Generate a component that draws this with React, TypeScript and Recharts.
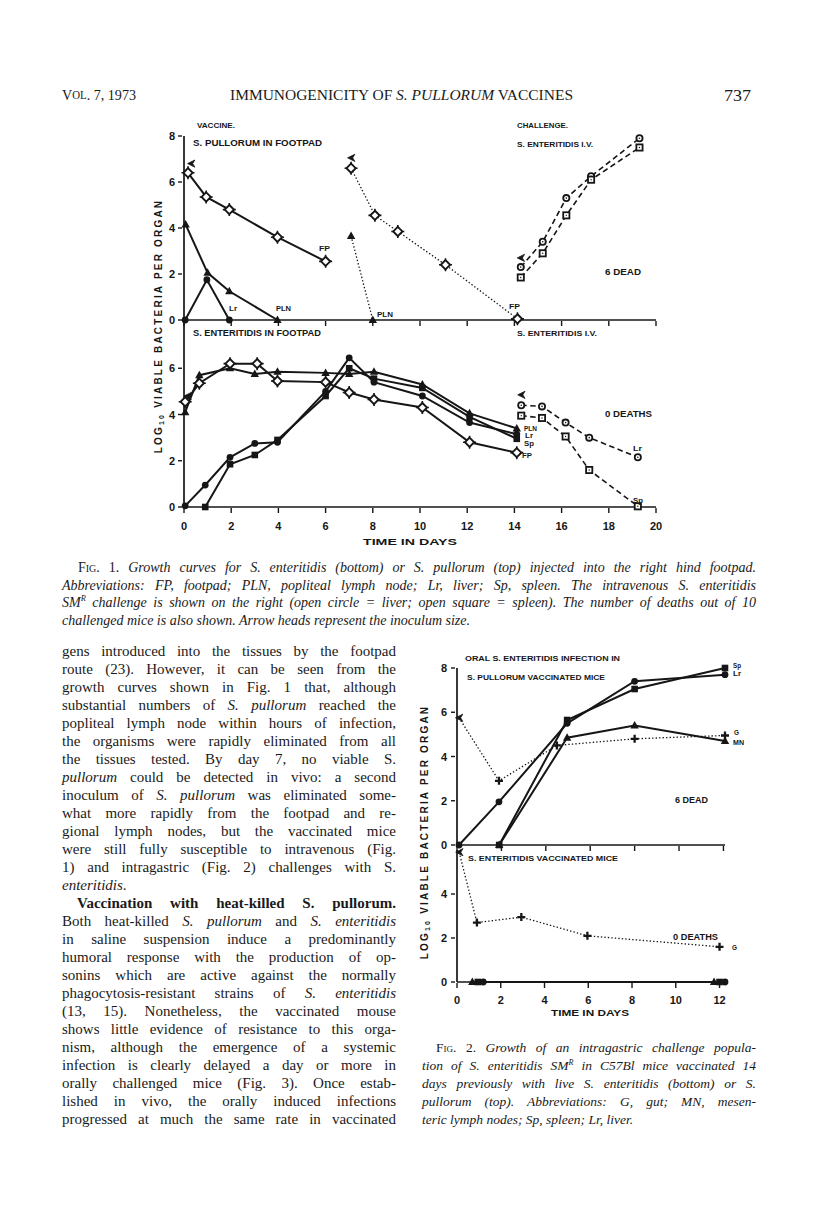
import React from "react";
import { LineChart, Line, XAxis, YAxis } from "recharts";

const INK = "#161616";
const SANS = "'Liberation Sans', Arial, sans-serif";
const SERIF = "'Liberation Serif', 'Times New Roman', serif";

type Pt = { d: number; v: number };

// ---- Fig. 1, top: S. pullorum vaccine in footpad, then I.V. challenge
const fig1TopFP: Pt[] = [
  { d: 0.17, v: 6.4 }, { d: 0.94, v: 5.35 }, { d: 1.92, v: 4.8 }, { d: 3.96, v: 3.6 }, { d: 6.0, v: 2.55 },
];
const fig1TopPLN: Pt[] = [{ d: 0.07, v: 4.15 }, { d: 1.0, v: 2.05 }, { d: 1.92, v: 1.25 }, { d: 3.96, v: 0 }];
const fig1TopLr: Pt[] = [{ d: 0.05, v: 0 }, { d: 0.97, v: 1.75 }, { d: 1.92, v: 0 }];
const fig1TopInoc: Pt[] = [{ d: 0.3, v: 6.8 }];
const fig1TopFP2: Pt[] = [
  { d: 7.08, v: 6.6 }, { d: 8.09, v: 4.55 }, { d: 9.06, v: 3.85 }, { d: 11.08, v: 2.4 }, { d: 14.13, v: 0.05 },
];
const fig1TopPLN2: Pt[] = [{ d: 7.08, v: 3.65 }, { d: 8.0, v: 0 }];
const fig1TopInoc2: Pt[] = [{ d: 7.08, v: 7.05 }];
const fig1TopIvLr: Pt[] = [
  { d: 14.27, v: 2.3 }, { d: 15.2, v: 3.4 }, { d: 16.2, v: 5.3 }, { d: 17.25, v: 6.25 }, { d: 19.3, v: 7.9 },
];
const fig1TopIvSp: Pt[] = [
  { d: 14.27, v: 1.85 }, { d: 15.2, v: 2.9 }, { d: 16.2, v: 4.55 }, { d: 17.25, v: 6.1 }, { d: 19.3, v: 7.5 },
];
const fig1TopIvInoc: Pt[] = [{ d: 14.27, v: 2.7 }];

// ---- Fig. 1, bottom: S. enteritidis in footpad, then I.V. challenge
const fig1BotFP: Pt[] = [
  { d: 0.05, v: 4.55 }, { d: 0.65, v: 5.35 }, { d: 1.95, v: 6.2 }, { d: 3.1, v: 6.2 }, { d: 3.96, v: 5.45 },
  { d: 6.0, v: 5.4 }, { d: 7.0, v: 4.95 }, { d: 8.05, v: 4.65 }, { d: 10.1, v: 4.3 }, { d: 12.1, v: 2.8 },
  { d: 14.1, v: 2.35 },
];
const fig1BotPLN: Pt[] = [
  { d: 0.05, v: 4.1 }, { d: 0.65, v: 5.7 }, { d: 1.95, v: 6.0 }, { d: 3.0, v: 5.75 }, { d: 3.96, v: 5.85 },
  { d: 6.0, v: 5.8 }, { d: 7.0, v: 5.75 }, { d: 8.05, v: 5.85 }, { d: 10.1, v: 5.3 }, { d: 12.1, v: 4.05 },
  { d: 14.1, v: 3.4 },
];
const fig1BotLr: Pt[] = [
  { d: 0.05, v: 0.05 }, { d: 0.9, v: 0.95 }, { d: 1.95, v: 2.15 }, { d: 3.0, v: 2.75 }, { d: 3.96, v: 2.8 },
  { d: 6.0, v: 5.0 }, { d: 7.0, v: 6.45 }, { d: 8.05, v: 5.4 }, { d: 10.1, v: 4.8 }, { d: 12.1, v: 3.65 },
  { d: 14.1, v: 3.15 },
];
const fig1BotSp: Pt[] = [
  { d: 0.9, v: 0 }, { d: 1.95, v: 1.85 }, { d: 3.0, v: 2.25 }, { d: 3.96, v: 2.9 }, { d: 6.0, v: 4.8 },
  { d: 7.0, v: 6.0 }, { d: 8.05, v: 5.55 }, { d: 10.1, v: 5.15 }, { d: 12.1, v: 3.9 }, { d: 14.1, v: 2.95 },
];
const fig1BotInoc: Pt[] = [{ d: 0.15, v: 4.8 }];
const fig1BotIvLr: Pt[] = [
  { d: 14.29, v: 4.4 }, { d: 15.17, v: 4.35 }, { d: 16.17, v: 3.65 }, { d: 17.17, v: 3.0 }, { d: 19.23, v: 2.15 },
];
const fig1BotIvSp: Pt[] = [
  { d: 14.29, v: 3.95 }, { d: 15.17, v: 3.85 }, { d: 16.17, v: 3.05 }, { d: 17.17, v: 1.6 }, { d: 19.23, v: 0.03 },
];
const fig1BotIvInoc: Pt[] = [{ d: 14.29, v: 4.85 }];

const fig1Days = [0, 2, 4, 6, 8, 10, 12, 14, 16, 18, 20];
const fig1TopLogTicks = [0, 2, 4, 6, 8];
const fig1BotLogTicks = [0, 2, 4, 6];

// ---- Fig. 2, top: oral challenge of S. pullorum vaccinated mice
const fig2TopSp: Pt[] = [{ d: 1.9, v: 0 }, { d: 4.96, v: 5.65 }, { d: 8.0, v: 7.05 }, { d: 12.07, v: 8.0 }];
const fig2TopLr: Pt[] = [
  { d: 0.09, v: 0 }, { d: 1.89, v: 1.95 }, { d: 4.96, v: 5.5 }, { d: 8.0, v: 7.4 }, { d: 12.07, v: 7.7 },
];
const fig2TopMN: Pt[] = [{ d: 1.9, v: 0 }, { d: 4.96, v: 4.85 }, { d: 8.0, v: 5.4 }, { d: 12.07, v: 4.7 }];
// first point is the inoculum (arrow head)
const fig2TopG: Pt[] = [
  { d: 0.09, v: 5.75 }, { d: 1.89, v: 2.9 }, { d: 4.5, v: 4.5 }, { d: 8.0, v: 4.8 }, { d: 12.07, v: 4.95 },
];

// ---- Fig. 2, bottom: S. enteritidis vaccinated mice
const fig2BotG: Pt[] = [
  { d: 0.1, v: 5.9 }, { d: 0.91, v: 2.7 }, { d: 2.94, v: 2.95 }, { d: 5.96, v: 2.1 }, { d: 12.0, v: 1.6 },
];
const fig2BotMN: Pt[] = [{ d: 0.7, v: 0 }, { d: 11.75, v: 0 }];
const fig2BotSp: Pt[] = [{ d: 0.95, v: 0 }, { d: 12.0, v: 0 }];
const fig2BotLr: Pt[] = [{ d: 1.2, v: 0 }, { d: 12.25, v: 0 }];

const fig2Days = [0, 2, 4, 6, 8, 10, 12];
const fig2TopLogTicks = [0, 2, 4, 6, 8];
const fig2BotLogTicks = [0, 2, 4];

type Kind = "circle" | "square" | "triangle" | "ring" | "box" | "star" | "plus" | "arrow";
type LineStyle = "solid" | "dotted" | "dashed" | "none";
type Series = { data: Pt[]; marker: Kind; style: LineStyle; first?: Kind };

function Marker({ kind, x, y }: { kind: Kind; x: number; y: number }) {
  switch (kind) {
    case "circle":
      return <circle cx={x} cy={y} r={3.4} fill={INK} />;
    case "square":
      return <rect x={x - 3.3} y={y - 3.3} width={6.6} height={6.6} fill={INK} />;
    case "triangle":
      return <path d={`M${x},${y - 4.5}L${x + 4.2},${y + 3}L${x - 4.2},${y + 3}Z`} fill={INK} />;
    case "ring":
      return (
        <g>
          <circle cx={x} cy={y} r={3.1} fill="#fff" stroke={INK} strokeWidth={1.8} />
          <circle cx={x} cy={y} r={0.8} fill={INK} />
        </g>
      );
    case "box":
      return (
        <g>
          <rect x={x - 3.1} y={y - 3.1} width={6.2} height={6.2} fill="#fff" stroke={INK} strokeWidth={1.8} />
          <circle cx={x} cy={y} r={0.7} fill={INK} />
        </g>
      );
    case "star":
      return (
        <g>
          <path d={`M${x - 6.5},${y}H${x + 6.5}M${x},${y - 6.5}V${y + 6.5}`} stroke={INK} strokeWidth={1.6} />
          <path
            d={`M${x},${y - 4.6}L${x + 4.6},${y}L${x},${y + 4.6}L${x - 4.6},${y}Z`}
            fill="#fff"
            stroke={INK}
            strokeWidth={1.9}
          />
        </g>
      );
    case "plus":
      return <path d={`M${x - 4},${y}H${x + 4}M${x},${y - 4}V${y + 4}`} stroke={INK} strokeWidth={2.3} />;
    case "arrow":
      return (
        <path
          d={`M${x - 3.5},${y}L${x + 3.8},${y - 3.6}L${x + 1.6},${y}L${x + 3.8},${y + 3.6}Z`}
          fill={INK}
          stroke={INK}
          strokeWidth={0.8}
          strokeLinejoin="round"
        />
      );
  }
  return null;
}

const dotOf = (kind: Kind, first?: Kind) => (p: any) => {
  if (p.cx == null || p.cy == null) return <g key={`e-${p.index}`} />;
  const k = first && p.index === 0 ? first : kind;
  return (
    <g key={`${kind}-${p.index}`}>
      <Marker kind={k} x={p.cx} y={p.cy} />
    </g>
  );
};

const lineStyle = (s: LineStyle) => {
  if (s === "dotted") return { stroke: INK, strokeWidth: 1.3, strokeDasharray: "1.4 2.1" };
  if (s === "dashed") return { stroke: INK, strokeWidth: 1.6, strokeDasharray: "5.5 3.5" };
  if (s === "none") return { stroke: "none", strokeWidth: 0 };
  return { stroke: INK, strokeWidth: 2 };
};

const xTick = (label: boolean, gap: number) => (p: any) => (
  <g>
    <line x1={p.x} x2={p.x} y1={p.y} y2={p.y - 5} stroke={INK} strokeWidth={1.4} />
    {label && (
      <text
        x={p.x}
        y={p.y + gap}
        textAnchor="middle"
        dominantBaseline="central"
        fontSize={11}
        fontWeight={700}
        fontFamily={SANS}
        fill={INK}
      >
        {p.payload.value}
      </text>
    )}
  </g>
);

const yTick = (gap: number) => (p: any) => (
  <g>
    <line x1={p.x} x2={p.x + 4} y1={p.y} y2={p.y} stroke={INK} strokeWidth={1.4} />
    <text
      x={p.x - gap}
      y={p.y}
      textAnchor="end"
      dominantBaseline="central"
      fontSize={11}
      fontWeight={700}
      fontFamily={SANS}
      fill={INK}
    >
      {p.payload.value}
    </text>
  </g>
);

type PanelProps = {
  left: number;
  top: number;
  width: number;
  height: number;
  yAxisWidth: number;
  mt: number;
  mr: number;
  mb: number;
  xAxisHeight: number;
  xDomain: [number, number];
  xTicks: number[];
  xLabels: boolean;
  xGap: number;
  yDomain: [number, number];
  yTicks: number[];
  yGap: number;
  series: Series[];
};

function Panel(props: PanelProps) {
  return (
    <div style={{ position: "absolute", left: props.left, top: props.top }}>
      <LineChart
        width={props.width}
        height={props.height}
        margin={{ top: props.mt, right: props.mr, bottom: props.mb, left: 0 }}
      >
        <XAxis
          type="number"
          dataKey="d"
          domain={props.xDomain}
          ticks={props.xTicks}
          interval={0}
          height={props.xAxisHeight}
          tickLine={false}
          tickMargin={0}
          axisLine={{ stroke: INK, strokeWidth: 1.7 }}
          tick={xTick(props.xLabels, props.xGap)}
        />
        <YAxis
          type="number"
          domain={props.yDomain}
          ticks={props.yTicks}
          interval={0}
          width={props.yAxisWidth}
          tickLine={false}
          tickMargin={0}
          axisLine={{ stroke: INK, strokeWidth: 1.7 }}
          tick={yTick(props.yGap)}
        />
        {props.series.map((s, i) => (
          <Line
            key={i}
            data={s.data}
            dataKey="v"
            type="linear"
            {...lineStyle(s.style)}
            dot={dotOf(s.marker, s.first)}
            activeDot={false}
            isAnimationActive={false}
          />
        ))}
      </LineChart>
    </div>
  );
}

const fig1TopSeries: Series[] = [
  { data: fig1TopLr, marker: "circle", style: "solid" },
  { data: fig1TopPLN, marker: "triangle", style: "solid" },
  { data: fig1TopFP, marker: "star", style: "solid" },
  { data: fig1TopPLN2, marker: "triangle", style: "dotted" },
  { data: fig1TopFP2, marker: "star", style: "dotted" },
  { data: fig1TopIvLr, marker: "ring", style: "dashed" },
  { data: fig1TopIvSp, marker: "box", style: "dashed" },
  { data: fig1TopInoc, marker: "arrow", style: "none" },
  { data: fig1TopInoc2, marker: "arrow", style: "none" },
  { data: fig1TopIvInoc, marker: "arrow", style: "none" },
];

const fig1BotSeries: Series[] = [
  { data: fig1BotLr, marker: "circle", style: "solid" },
  { data: fig1BotSp, marker: "square", style: "solid" },
  { data: fig1BotPLN, marker: "triangle", style: "solid" },
  { data: fig1BotFP, marker: "star", style: "solid" },
  { data: fig1BotIvLr, marker: "ring", style: "dashed" },
  { data: fig1BotIvSp, marker: "box", style: "dashed" },
  { data: fig1BotInoc, marker: "arrow", style: "none" },
  { data: fig1BotIvInoc, marker: "arrow", style: "none" },
];

const fig2TopSeries: Series[] = [
  { data: fig2TopMN, marker: "triangle", style: "solid" },
  { data: fig2TopLr, marker: "circle", style: "solid" },
  { data: fig2TopSp, marker: "square", style: "solid" },
  { data: fig2TopG, marker: "plus", style: "dotted", first: "arrow" },
];

const fig2BotSeries: Series[] = [
  { data: fig2BotMN, marker: "triangle", style: "solid" },
  { data: fig2BotSp, marker: "square", style: "solid" },
  { data: fig2BotLr, marker: "circle", style: "solid" },
  { data: fig2BotG, marker: "plus", style: "dotted", first: "arrow" },
];

// chart lettering: text, x (start), y (centre), width, font size
const notes: [string, number, number, number, number][] = [
  ["VACCINE.", 197, 125, 38, 8],
  ["S. PULLORUM IN FOOTPAD", 193, 143, 129, 8.5],
  ["CHALLENGE.", 517, 125, 51, 8],
  ["S. ENTERITIDIS I.V.", 517, 144, 76, 8],
  ["FP", 319, 248, 11, 8],
  ["Lr", 229, 308, 8, 8],
  ["PLN", 276, 308, 15, 8],
  ["PLN", 377, 314, 16, 8],
  ["FP", 509, 306, 11, 8],
  ["6 DEAD", 605, 272, 36, 8.5],
  ["S. ENTERITIDIS IN FOOTPAD", 193, 333, 128, 8.5],
  ["S. ENTERITIDIS I.V.", 517, 333, 80, 8],
  ["PLN", 524, 428, 13, 7.5],
  ["Lr", 525, 435, 8, 7.5],
  ["Sp", 524, 443, 10, 7.5],
  ["FP", 522, 455, 10, 7.5],
  ["0 DEATHS", 605, 414, 47, 8.5],
  ["Lr", 633, 448, 9, 7.5],
  ["Sp", 633, 500, 10, 7.5],
  ["TIME IN DAYS", 363, 541, 94, 9.5],
  ["ORAL S. ENTERITIDIS INFECTION IN", 465, 658, 155, 8],
  ["S. PULLORUM VACCINATED MICE", 467, 677, 138, 8],
  ["Sp", 733, 665, 8, 7],
  ["Lr", 733, 673, 8, 7],
  ["G", 734, 732, 5, 7.5],
  ["MN", 733, 742, 11, 7.5],
  ["6 DEAD", 675, 800, 33, 8.5],
  ["S. ENTERITIDIS VACCINATED MICE", 468, 858, 150, 8],
  ["0 DEATHS", 673, 937, 45, 8.5],
  ["G", 732, 947, 5, 7.5],
  ["TIME IN DAYS", 551, 1013, 78, 9],
];

function YLabel({ x, y }: { x: number; y: number }) {
  return (
    <text
      transform={`translate(${x},${y}) rotate(-90)`}
      textAnchor="middle"
      dominantBaseline="central"
      fontFamily={SANS}
      fontWeight={700}
      fontSize={10}
      letterSpacing={2.2}
      fill={INK}
    >
      LOG<tspan fontSize={7} dy={3}>10</tspan>
      <tspan dy={-3}> VIABLE BACTERIA PER ORGAN</tspan>
    </text>
  );
}

type TextLine = { node: React.ReactNode; last?: boolean; indent?: number };

const bodyLines: TextLine[] = [
  { node: "gens introduced into the tissues by the footpad" },
  { node: "route (23). However, it can be seen from the" },
  { node: "growth curves shown in Fig. 1 that, although" },
  { node: <>substantial numbers of <i>S. pullorum</i> reached the</> },
  { node: "popliteal lymph node within hours of infection," },
  { node: "the organisms were rapidly eliminated from all" },
  { node: "the tissues tested. By day 7, no viable S." },
  { node: <><i>pullorum</i> could be detected in vivo: a second</> },
  { node: <>inoculum of <i>S. pullorum</i> was eliminated some-</> },
  { node: "what more rapidly from the footpad and re-" },
  { node: "gional lymph nodes, but the vaccinated mice" },
  { node: "were still fully susceptible to intravenous (Fig." },
  { node: "1) and intragastric (Fig. 2) challenges with S." },
  { node: <><i>enteritidis</i>.</>, last: true },
  { node: <b>Vaccination with heat-killed S. pullorum.</b>, indent: 15 },
  { node: <>Both heat-killed <i>S. pullorum</i> and <i>S. enteritidis</i></> },
  { node: "in saline suspension induce a predominantly" },
  { node: "humoral response with the production of op-" },
  { node: "sonins which are active against the normally" },
  { node: <>phagocytosis-resistant strains of <i>S. enteritidis</i></> },
  { node: "(13, 15). Nonetheless, the vaccinated mouse" },
  { node: "shows little evidence of resistance to this orga-" },
  { node: "nism, although the emergence of a systemic" },
  { node: "infection is clearly delayed a day or more in" },
  { node: "orally challenged mice (Fig. 3). Once estab-" },
  { node: "lished in vivo, the orally induced infections" },
  { node: "progressed at much the same rate in vaccinated" },
];

const fig1Caption: TextLine[] = [
  {
    node: (
      <>
        <span style={{ fontStyle: "normal", fontVariant: "small-caps" }}>Fig. 1.</span> Growth curves for S.
        enteritidis (bottom) or S. pullorum (top) injected into the right hind footpad.
      </>
    ),
    indent: 16,
  },
  {
    node: "Abbreviations: FP, footpad; PLN, popliteal lymph node; Lr, liver; Sp, spleen. The intravenous S. enteritidis",
  },
  {
    node: (
      <>
        SM<sup style={{ fontSize: "0.6em", lineHeight: 0 }}>R</sup> challenge is shown on the right (open circle =
        liver; open square = spleen). The number of deaths out of 10
      </>
    ),
  },
  { node: "challenged mice is also shown. Arrow heads represent the inoculum size.", last: true },
];

const fig2Caption: TextLine[] = [
  {
    node: (
      <>
        <span style={{ fontStyle: "normal", fontVariant: "small-caps" }}>Fig. 2.</span> Growth of an
        intragastric challenge popula-
      </>
    ),
    indent: 14,
  },
  {
    node: (
      <>
        tion of S. enteritidis SM<sup style={{ fontSize: "0.6em", lineHeight: 0 }}>R</sup> in C57Bl mice
        vaccinated 14
      </>
    ),
  },
  { node: "days previously with live S. enteritidis (bottom) or S." },
  { node: "pullorum (top). Abbreviations: G, gut; MN, mesen-" },
  { node: "teric lymph nodes; Sp, spleen; Lr, liver.", last: true },
];

function TextBlock({
  lines,
  left,
  top,
  width,
  size,
  lh,
  italic,
}: {
  lines: TextLine[];
  left: number;
  top: number;
  width: number;
  size: number;
  lh: number;
  italic?: boolean;
}) {
  return (
    <div
      style={{
        position: "absolute",
        left,
        top,
        width,
        fontFamily: SERIF,
        fontSize: size,
        lineHeight: `${lh}px`,
        fontStyle: italic ? "italic" : "normal",
        color: "#1a1a1a",
      }}
    >
      {lines.map((l, i) => (
        <div
          key={i}
          style={{
            height: lh,
            paddingLeft: l.indent ?? 0,
            textAlign: "justify",
            textAlignLast: l.last ? "left" : "justify",
          }}
        >
          {l.node}
        </div>
      ))}
    </div>
  );
}

export default function App() {
  return (
    <div
      style={{
        position: "absolute",
        left: 0,
        top: 0,
        width: 810,
        height: 1222,
        background: "#fff",
        overflow: "hidden",
      }}
    >
      <Panel
        left={150}
        top={126}
        width={520}
        height={200}
        yAxisWidth={34}
        mt={10}
        mr={14}
        mb={2}
        xAxisHeight={4}
        xDomain={[0, 20]}
        xTicks={fig1Days}
        xLabels={false}
        xGap={14}
        yDomain={[0, 8]}
        yTicks={fig1TopLogTicks}
        yGap={3}
        series={fig1TopSeries}
      />
      <Panel
        left={150}
        top={312}
        width={520}
        height={225}
        yAxisWidth={34}
        mt={10}
        mr={14}
        mb={0}
        xAxisHeight={30}
        xDomain={[0, 20]}
        xTicks={fig1Days}
        xLabels={true}
        xGap={13}
        yDomain={[0, 8]}
        yTicks={fig1BotLogTicks}
        yGap={3}
        series={fig1BotSeries}
      />
      <Panel
        left={420}
        top={658}
        width={330}
        height={193}
        yAxisWidth={37}
        mt={10}
        mr={25}
        mb={2}
        xAxisHeight={4}
        xDomain={[0, 12]}
        xTicks={fig2Days}
        xLabels={false}
        xGap={12}
        yDomain={[0, 8]}
        yTicks={fig2TopLogTicks}
        yGap={4}
        series={fig2TopSeries}
      />
      <Panel
        left={420}
        top={840}
        width={330}
        height={172}
        yAxisWidth={37}
        mt={10}
        mr={25}
        mb={0}
        xAxisHeight={30}
        xDomain={[0, 12]}
        xTicks={fig2Days}
        xLabels={true}
        xGap={12}
        yDomain={[0, 6]}
        yTicks={fig2BotLogTicks}
        yGap={4}
        series={fig2BotSeries}
      />

      <svg
        width={810}
        height={1222}
        style={{ position: "absolute", left: 0, top: 0, pointerEvents: "none" }}
      >
        <g fontFamily={SERIF} fill="#1a1a1a" dominantBaseline="central">
          <text x={62} y={95} fontSize={15} textLength={74} lengthAdjust="spacingAndGlyphs">
            V<tspan fontSize={11.5}>OL</tspan>. 7, 1973
          </text>
          <text x={230} y={95} fontSize={15} textLength={343} lengthAdjust="spacingAndGlyphs">
            IMMUNOGENICITY OF <tspan fontStyle="italic">S. PULLORUM</tspan> VACCINES
          </text>
          <text x={724} y={95} fontSize={16} textLength={27} lengthAdjust="spacingAndGlyphs">
            737
          </text>
        </g>
        <g fontFamily={SANS} fontWeight={700} fill={INK}>
          {notes.map(([t, x, y, w, s], i) => (
            <text
              key={i}
              x={x}
              y={y}
              fontSize={s}
              textLength={w}
              lengthAdjust="spacingAndGlyphs"
              dominantBaseline="central"
            >
              {t}
            </text>
          ))}
        </g>
        <YLabel x={158} y={326} />
        <YLabel x={424} y={832} />
      </svg>

      <TextBlock lines={fig1Caption} left={62} top={559} width={694} size={14} lh={17.7} italic />
      <TextBlock lines={bodyLines} left={62} top={642} width={334} size={15} lh={18} />
      <TextBlock lines={fig2Caption} left={422} top={1039} width={334} size={13.5} lh={18.1} italic />
    </div>
  );
}
